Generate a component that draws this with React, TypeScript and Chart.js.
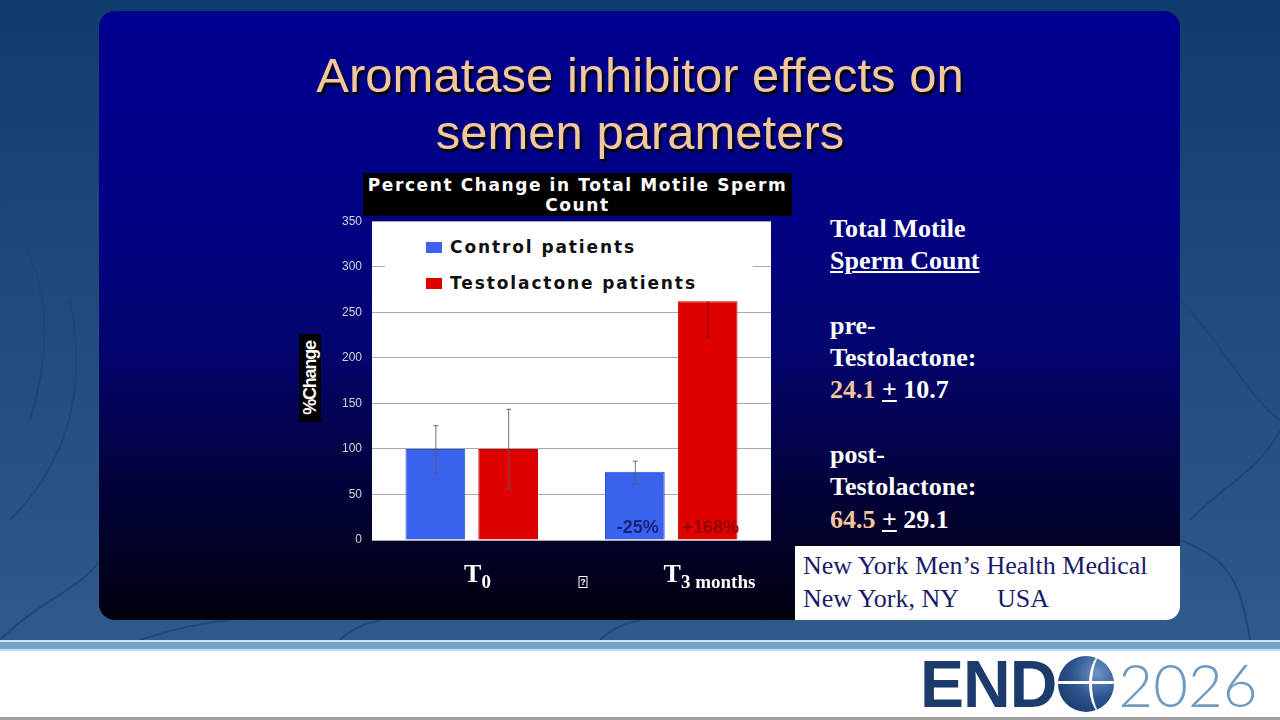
import React, { useEffect, useRef } from "react";
import { Chart, registerables } from "chart.js";

Chart.register(...registerables);

// ---- data ----
const categoryMain = ["T", "T"];
const categorySub = ["0", "3 months"];
const seriesNames = ["Control patients", "Testolactone patients"];
const controlValues = [100, 75];
const testolactoneValues = [100, 262];
const controlErrLow = [74, 62];
const controlErrHigh = [126, 87];
const testolactoneErrLow = [57, 223];
const testolactoneErrHigh = [144, 262];
const controlNotes = ["", "-25%"];
const testolactoneNotes = ["", "+168%"];
const yMin = 0;
const yMax = 350;
const yStep = 50;

const BLUE = "#3b62ec";
const RED = "#e00000";
const PEACH = "#f3c79c";

const decorPlugin = {
  id: "slideDecor",
  beforeDraw(chart: any) {
    const { ctx, chartArea } = chart;
    ctx.save();
    ctx.fillStyle = "#ffffff";
    ctx.fillRect(chartArea.left, chartArea.top, chartArea.right - chartArea.left, chartArea.bottom - chartArea.top);
    ctx.restore();
  },
  afterDatasetsDraw(chart: any) {
    const { ctx } = chart;
    const y = chart.scales.y;
    const lows = [controlErrLow, testolactoneErrLow];
    const highs = [controlErrHigh, testolactoneErrHigh];
    const vals = [controlValues, testolactoneValues];
    const notes = [controlNotes, testolactoneNotes];
    const noteColors = ["#17247e", "#940000"];
    ctx.save();
    for (let d = 0; d < 2; d++) {
      const meta = chart.getDatasetMeta(d);
      meta.data.forEach((bar: any, i: number) => {
        const x = bar.x;
        const yl = y.getPixelForValue(lows[d][i]);
        const yh = y.getPixelForValue(highs[d][i]);
        ctx.strokeStyle = d === 1 && i === 1 ? "rgba(110,0,0,0.85)" : "rgba(90,90,90,0.85)";
        ctx.lineWidth = 1;
        ctx.beginPath();
        ctx.moveTo(x + 0.5, yh);
        ctx.lineTo(x + 0.5, yl);
        ctx.moveTo(x - 2, yl + 0.5);
        ctx.lineTo(x + 3, yl + 0.5);
        if (highs[d][i] !== vals[d][i]) {
          ctx.moveTo(x - 2, yh + 0.5);
          ctx.lineTo(x + 3, yh + 0.5);
        }
        ctx.stroke();
        const note = notes[d][i];
        if (note) {
          ctx.font = "bold 18px 'Liberation Sans', Arial, sans-serif";
          ctx.fillStyle = noteColors[d];
          ctx.textAlign = "center";
          ctx.textBaseline = "alphabetic";
          ctx.fillText(note, x + 3, y.getPixelForValue(0) - 7);
        }
      });
    }
    ctx.restore();
  },
  afterDraw(chart: any) {
    const { ctx, chartArea } = chart;
    const xs = chart.scales.x;
    ctx.save();
    ctx.fillStyle = "#ffffff";
    ctx.textBaseline = "alphabetic";
    ctx.textAlign = "left";
    categoryMain.forEach((m, i) => {
      const cx = xs.getPixelForValue(i);
      ctx.font = "bold 26px 'Liberation Serif', 'Times New Roman', serif";
      const w = ctx.measureText(m).width;
      const x0 = cx - w / 2 + 1;
      ctx.fillText(m, x0, chartArea.bottom + 42);
      ctx.font = "bold 19px 'Liberation Serif', 'Times New Roman', serif";
      ctx.fillText(categorySub[i], x0 + w, chartArea.bottom + 48);
    });
    // missing-glyph box between categories
    const mid = (xs.getPixelForValue(0) + xs.getPixelForValue(1)) / 2 + 11;
    ctx.strokeStyle = "#ffffff";
    ctx.lineWidth = 1;
    ctx.strokeRect(mid - 3.5, chartArea.bottom + 36.5, 8, 11);
    ctx.font = "bold 9px 'Liberation Sans', Arial, sans-serif";
    ctx.textAlign = "center";
    ctx.fillText("?", mid + 0.5, chartArea.bottom + 45);
    ctx.restore();
  },
};

function ChartCanvas() {
  const ref = useRef<HTMLCanvasElement | null>(null);
  useEffect(() => {
    if (!ref.current) return;
    const chart = new Chart(ref.current, {
      type: "bar",
      data: {
        labels: categoryMain.map((m, i) => m + categorySub[i]),
        datasets: [
          {
            label: seriesNames[0],
            data: controlValues,
            backgroundColor: BLUE,
            borderColor: "#2c4fd0",
            borderWidth: 1,
            barPercentage: 0.82,
            categoryPercentage: 0.73,
          },
          {
            label: seriesNames[1],
            data: testolactoneValues,
            backgroundColor: RED,
            borderColor: "#b80000",
            borderWidth: 1,
            barPercentage: 0.82,
            categoryPercentage: 0.73,
          },
        ],
      },
      options: {
        animation: false,
        responsive: false,
        devicePixelRatio: 1,
        layout: { padding: { top: 5, right: 4, left: 0, bottom: 0 } },
        plugins: {
          legend: { display: false },
          tooltip: { enabled: false },
          title: { display: false },
        },
        scales: {
          x: {
            grid: { display: false },
            border: { display: false },
            ticks: { display: false },
            afterFit: (s: any) => {
              s.height = 55;
            },
          },
          y: {
            min: yMin,
            max: yMax,
            grid: { color: "#a9a9a9", drawTicks: false, lineWidth: 1 },
            border: { display: false },
            ticks: {
              stepSize: yStep,
              color: "#d4d4d4",
              padding: 10,
              font: { family: "'Liberation Sans', Arial, sans-serif", size: 12 },
            },
            afterFit: (s: any) => {
              s.width = 42;
            },
          },
        },
      },
      plugins: [decorPlugin],
    });
    return () => chart.destroy();
  }, []);
  return (
    <canvas
      ref={ref}
      width={445}
      height={391}
      style={{ position: "absolute", left: 330, top: 204, width: 445, height: 391 }}
    />
  );
}

const serif = "'Liberation Serif', 'Times New Roman', serif";
const sans = "'Liberation Sans', Arial, sans-serif";
const wide = "'DejaVu Sans', Verdana, sans-serif";

export default function App() {
  const rightLines: React.ReactNode[] = [
    "Total Motile",
    <span style={{ textDecoration: "underline" }}>Sperm Count</span>,
    "\u00a0",
    "pre-",
    "Testolactone:",
    <span>
      <span style={{ color: PEACH }}>24.1</span> <span style={{ textDecoration: "underline" }}>+</span> 10.7
    </span>,
    "\u00a0",
    "post-",
    "Testolactone:",
    <span>
      <span style={{ color: PEACH }}>64.5</span> <span style={{ textDecoration: "underline" }}>+</span> 29.1
    </span>,
  ];
  return (
    <div
      style={{
        position: "fixed",
        left: 0,
        top: 0,
        width: 1280,
        height: 720,
        overflow: "hidden",
        background: "#ffffff",
      }}
    >
      {/* outer textured backdrop */}
      <div
        style={{
          position: "absolute",
          left: 0,
          top: 0,
          width: 1280,
          height: 640,
          background: "linear-gradient(180deg, #0f3b6d 0%, #1f4a7c 45%, #2f5a8a 100%)",
        }}
      />
      <svg width={1280} height={640} style={{ position: "absolute", left: 0, top: 0 }}>
        <g fill="none" stroke="#1d4676" strokeWidth={2} opacity={0.8}>
          <path d="M0 200 C 40 260, 60 320, 30 420" />
          <path d="M10 520 C 60 470, 90 400, 70 300" />
          <path d="M0 640 C 40 600, 80 590, 100 560" />
          <path d="M1180 300 C 1220 340, 1250 400, 1280 420" />
          <path d="M1190 520 C 1230 480, 1260 470, 1280 430" />
          <path d="M1250 640 C 1240 580, 1230 560, 1180 540" />
          <path d="M140 640 C 170 630, 190 625, 230 620" />
          <path d="M340 640 C 350 630, 360 625, 380 620" />
          <path d="M600 640 C 610 630, 620 625, 640 620" />
        </g>
      </svg>
      {/* stripe */}
      <div style={{ position: "absolute", left: 0, top: 640, width: 1280, height: 2, background: "#cfe3f2" }} />
      <div style={{ position: "absolute", left: 0, top: 642, width: 1280, height: 7, background: "#78a3cd" }} />
      <div style={{ position: "absolute", left: 0, top: 649, width: 1280, height: 2, background: "#c4dcee" }} />
      <div style={{ position: "absolute", left: 0, top: 717, width: 1280, height: 3, background: "#a0a0a0" }} />

      {/* slide panel */}
      <div
        style={{
          position: "absolute",
          left: 99,
          top: 11,
          width: 1081,
          height: 609,
          borderRadius: 16,
          background: "linear-gradient(180deg, #00008f 0%, #020287 30%, #040470 55%, #02023a 78%, #000010 100%)",
        }}
      />

      {/* slide title */}
      <div
        style={{
          position: "absolute",
          left: 240,
          top: 47,
          width: 800,
          textAlign: "center",
          fontFamily: sans,
          fontSize: 49,
          lineHeight: "57px",
          color: PEACH,
          textShadow: "2px 3px 2px #000000",
          whiteSpace: "nowrap",
        }}
      >
        <div>Aromatase inhibitor effects on</div>
        <div>semen parameters</div>
      </div>

      {/* chart title box */}
      <div
        style={{
          position: "absolute",
          left: 363,
          top: 173,
          width: 429,
          height: 43,
          background: "#000000",
          color: "#ffffff",
          fontFamily: wide,
          fontWeight: "bold",
          fontSize: 17,
          letterSpacing: 1.6,
          lineHeight: "20px",
          textAlign: "center",
          paddingTop: 2,
          boxSizing: "border-box",
          whiteSpace: "nowrap",
        }}
      >
        <div>Percent Change in Total Motile Sperm</div>
        <div>Count</div>
      </div>

      {/* y-axis title */}
      <div
        style={{
          position: "absolute",
          left: 299,
          top: 334,
          width: 22,
          height: 88,
          background: "#000000",
        }}
      />
      <div
        style={{
          position: "absolute",
          left: 310,
          top: 378,
          transform: "translate(-50%, -50%) rotate(-90deg)",
          color: "#ffffff",
          fontFamily: sans,
          fontWeight: "bold",
          fontSize: 18,
          letterSpacing: -1.2,
          whiteSpace: "nowrap",
          lineHeight: "18px",
        }}
      >
        %Change
      </div>

      <ChartCanvas />

      {/* legend inside plot */}
      <div
        style={{
          position: "absolute",
          left: 385,
          top: 229,
          width: 368,
          height: 68,
          background: "#ffffff",
        }}
      >
        {seriesNames.map((n, i) => (
          <div
            key={n}
            style={{
              position: "absolute",
              left: 41,
              top: 5 + i * 36,
              display: "flex",
              alignItems: "center",
              height: 26,
            }}
          >
            <div style={{ width: 16, height: 11, background: i === 0 ? BLUE : RED, marginRight: 8 }} />
            <div
              style={{
                fontFamily: wide,
                fontWeight: "bold",
                fontSize: 17,
                letterSpacing: 1.9,
                color: "#111111",
                whiteSpace: "nowrap",
              }}
            >
              {n}
            </div>
          </div>
        ))}
      </div>

      {/* right text block */}
      <div
        style={{
          position: "absolute",
          left: 830,
          top: 213,
          fontFamily: serif,
          fontWeight: "bold",
          fontSize: 26,
          lineHeight: "32.3px",
          color: "#ffffff",
          whiteSpace: "nowrap",
        }}
      >
        {rightLines.map((l, i) => (
          <div key={i}>{l}</div>
        ))}
      </div>

      {/* affiliation box */}
      <div
        style={{
          position: "absolute",
          left: 795,
          top: 546,
          width: 385,
          height: 74,
          background: "#ffffff",
          borderBottomRightRadius: 14,
          fontFamily: serif,
          fontSize: 26,
          lineHeight: "33px",
          color: "#1b1b6b",
          paddingLeft: 8,
          paddingTop: 3,
          boxSizing: "border-box",
          whiteSpace: "pre",
        }}
      >
        <div>New York Men’s Health Medical</div>
        <div>New York, NY      USA</div>
      </div>

      {/* ENDO 2026 logo */}
      <div
        style={{
          position: "absolute",
          left: 920,
          top: 650,
          height: 68,
          display: "flex",
          alignItems: "center",
        }}
      >
        <span
          style={{
            fontFamily: sans,
            fontWeight: "bold",
            fontSize: 66,
            color: "#1b3b6d",
            letterSpacing: -1,
            lineHeight: "66px",
          }}
        >
          END
        </span>
        <div
          style={{
            width: 56,
            height: 56,
            borderRadius: 28,
            marginLeft: 2,
            background: "radial-gradient(circle at 70% 30%, #6f93c4 0%, #2d5590 45%, #14305e 100%)",
            position: "relative",
            overflow: "hidden",
          }}
        >
          <div style={{ position: "absolute", left: 0, top: 25, width: 56, height: 3, background: "#ffffff" }} />
          <div
            style={{
              position: "absolute",
              left: 31,
              top: -4,
              width: 30,
              height: 64,
              borderLeft: "3px solid #ffffff",
              borderRadius: "50%",
            }}
          />
        </div>
        <span
          style={{
            fontFamily: "Lato, 'Open Sans', sans-serif",
            fontWeight: 300,
            fontSize: 60,
            color: "#6f9ac2",
            lineHeight: "66px",
            marginLeft: 4,
          }}
        >
          2026
        </span>
      </div>
    </div>
  );
}
